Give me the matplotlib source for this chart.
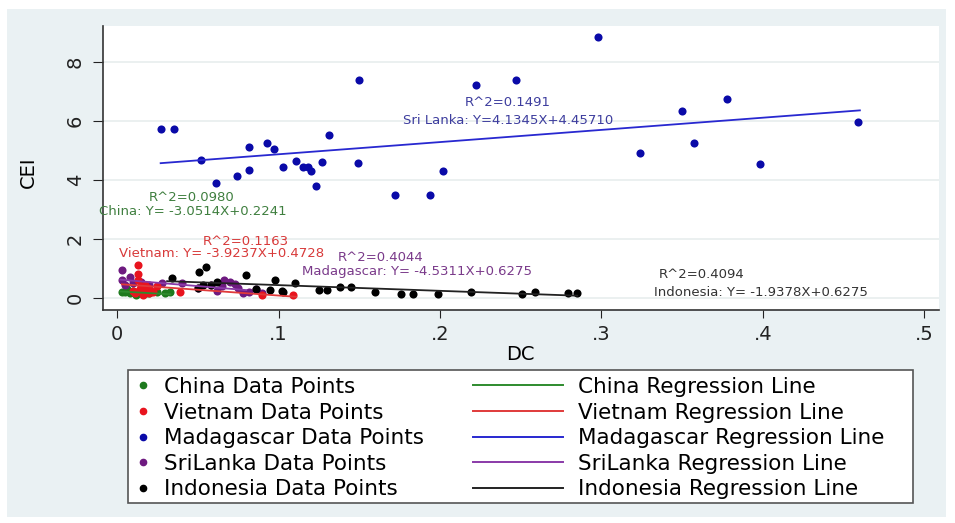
import numpy as np
import matplotlib
matplotlib.use("Agg")
import matplotlib.pyplot as plt
from matplotlib.lines import Line2D
from matplotlib.patches import Rectangle

plt.rcParams['font.family'] = ['DejaVu Sans']

# ---- data ----
china_x = [0.003, 0.005, 0.006, 0.008, 0.010, 0.012, 0.015, 0.018, 0.020, 0.025, 0.030, 0.033, 0.007]
china_y = [0.20, 0.20, 0.30, 0.15, 0.25, 0.10, 0.20, 0.15, 0.15, 0.20, 0.15, 0.20, 0.25]

vietnam_x = [0.013, 0.013, 0.013, 0.015, 0.010, 0.018, 0.020, 0.022, 0.016, 0.012, 0.025, 0.014,
             0.017, 0.019, 0.011, 0.039, 0.090, 0.109, 0.021]
vietnam_y = [1.10, 0.80, 0.60, 0.40, 0.25, 0.30, 0.15, 0.20, 0.10, 0.20, 0.40, 0.30,
             0.45, 0.35, 0.15, 0.20, 0.10, 0.10, 0.25]

madagascar_x = [0.027, 0.035, 0.052, 0.061, 0.074, 0.082, 0.082, 0.093, 0.097, 0.103, 0.111, 0.115,
                0.118, 0.120, 0.123, 0.127, 0.131, 0.149, 0.150, 0.172, 0.194, 0.202, 0.222,
                0.247, 0.298, 0.324, 0.350, 0.357, 0.378, 0.398, 0.459]
madagascar_y = [5.73, 5.73, 4.68, 3.90, 4.14, 4.34, 5.12, 5.25, 5.05, 4.44, 4.64, 4.44,
                4.44, 4.30, 3.80, 4.60, 5.53, 4.58, 7.39, 3.49, 3.49, 4.30, 7.22,
                7.39, 8.85, 4.92, 6.34, 5.25, 6.74, 4.55, 5.97]

srilanka_x = [0.003, 0.003, 0.005, 0.010, 0.015, 0.020, 0.028, 0.040, 0.050, 0.058, 0.062, 0.065,
              0.070, 0.075, 0.078, 0.082, 0.086, 0.090, 0.066, 0.073, 0.008]
srilanka_y = [0.95, 0.60, 0.45, 0.50, 0.55, 0.45, 0.50, 0.50, 0.35, 0.45, 0.25, 0.40,
              0.55, 0.35, 0.15, 0.20, 0.30, 0.15, 0.60, 0.48, 0.70]

indonesia_x = [0.034, 0.050, 0.051, 0.053, 0.055, 0.058, 0.062, 0.080, 0.086, 0.095, 0.098, 0.102,
               0.103, 0.110, 0.125, 0.130, 0.138, 0.145, 0.160, 0.176, 0.183, 0.199, 0.219,
               0.251, 0.259, 0.279, 0.285]
indonesia_y = [0.68, 0.33, 0.88, 0.44, 1.05, 0.44, 0.54, 0.78, 0.30, 0.27, 0.61, 0.24,
               0.20, 0.50, 0.27, 0.27, 0.37, 0.37, 0.20, 0.14, 0.14, 0.14, 0.20,
               0.14, 0.20, 0.17, 0.17]

# fitted lines (slope, intercept, x range)
names = ["China", "Vietnam", "Madagascar", "SriLanka", "Indonesia"]
slopes = [-3.0514, -3.9237, 4.1345, -4.5311, -1.9378]
intercepts = [0.2241, 0.4728, 4.4571, 0.6275, 0.6275]
x_start = [0.002, 0.003, 0.027, 0.002, 0.031]
x_end = [0.033, 0.111, 0.460, 0.080, 0.285]

r2_labels = ["R^2=0.0980", "R^2=0.1163", "R^2=0.1491", "R^2=0.4044", "R^2=0.4094"]
eq_labels = ["China: Y= -3.0514X+0.2241", "Vietnam: Y= -3.9237X+0.4728",
             "Sri Lanka: Y=4.1345X+4.45710", "Madagascar: Y= -4.5311X+0.6275",
             "Indonesia: Y= -1.9378X+0.6275"]

pt_colors = ["#1e7a1e", "#e8141e", "#0a0aa8", "#6e1a80", "#000000"]
ln_colors = ["#2e8b2e", "#e03a3a", "#2828d0", "#8a3aa8", "#222222"]
tx_colors = ["#3f7f3f", "#d83a3a", "#3d3d9e", "#7a3a8a", "#333333"]

fig = plt.figure(figsize=(9.55, 5.23), dpi=100)
W, H = 955, 523
# stata-like light background panel
fig.patches.append(Rectangle((7 / W, 1 - 517 / H), (946 - 7) / W, (517 - 9) / H,
                             transform=fig.transFigure, facecolor="#eaf1f3",
                             edgecolor="none", zorder=0))

ax = fig.add_axes([103 / W, 1 - 310 / H, 836 / W, 284 / H])
ax.set_zorder(3)
ax.set_facecolor("white")

xs = [china_x, vietnam_x, madagascar_x, srilanka_x, indonesia_x]
ys = [china_y, vietnam_y, madagascar_y, srilanka_y, indonesia_y]
zord = [3, 5, 3, 4, 4]
for i in range(5):
    ax.scatter(xs[i], ys[i], s=34, color=pt_colors[i], zorder=zord[i], linewidths=0)

for i in range(5):
    lx = np.array([x_start[i], x_end[i]])
    ax.plot(lx, slopes[i] * lx + intercepts[i], color=ln_colors[i], lw=1.3, zorder=6)

# annotation positions (data coords)
r2_pos = [(0.046, 3.42), (0.080, 1.90), (0.242, 6.61), (0.163, 1.36), (0.362, 0.81)]
eq_pos = [(0.047, 2.92), (0.065, 1.49), (0.242, 6.00), (0.186, 0.88), (0.399, 0.17)]
for i in range(5):
    ax.text(*r2_pos[i], r2_labels[i], color=tx_colors[i], fontsize=9.5, ha="center", va="center", zorder=7)
    ax.text(*eq_pos[i], eq_labels[i], color=tx_colors[i], fontsize=9.5, ha="center", va="center", zorder=7)

ax.set_xlim(-0.0087, 0.509)
ax.set_ylim(-0.41, 9.22)
ax.set_xticks([0, 0.1, 0.2, 0.3, 0.4, 0.5])
ax.set_xticklabels(["0", ".1", ".2", ".3", ".4", ".5"])
ax.set_yticks([0, 2, 4, 6, 8])
ax.set_yticklabels(["0", "2", "4", "6", "8"], rotation=90, va="center")
ax.tick_params(axis="both", direction="out", labelsize=14, colors="#222222")
ax.tick_params(axis="y", length=7, pad=6)
ax.tick_params(axis="x", length=6, pad=5)
ax.grid(axis="y", color="#e8eeee", lw=1.2, zorder=0)
ax.set_axisbelow(True)
for s in ["top", "right"]:
    ax.spines[s].set_visible(False)
for s in ["left", "bottom"]:
    ax.spines[s].set_color("#333333")
    ax.spines[s].set_linewidth(1.2)

fig.text(520 / W, 1 - 354 / H, "DC", fontsize=14, ha="center", va="center")
fig.text(28 / W, 1 - 172 / H, "CEI", fontsize=14, ha="center", va="center", rotation=90)

# legend box
fig.patches.append(Rectangle((128 / W, 1 - 503 / H), (913 - 128) / W, (503 - 370) / H,
                             transform=fig.transFigure, facecolor="white",
                             edgecolor="#555555", lw=1.2, zorder=1))

fs_leg = 15.5
px = fs_leg * 100 / 72
pt_handles = [Line2D([], [], marker="o", ls="none", color=pt_colors[i], markersize=4.5)
              for i in range(5)]
ln_handles = [Line2D([], [], color=ln_colors[i], lw=1.4) for i in range(5)]
leg1 = fig.legend(pt_handles, [n + " Data Points" for n in names], loc="upper left",
                  bbox_to_anchor=(134 / W, 1 - 377 / H), frameon=False, fontsize=fs_leg,
                  handlelength=18 / px, handletextpad=12 / px, labelspacing=0.26,
                  borderpad=0, borderaxespad=0)
leg2 = fig.legend(ln_handles, [n + " Regression Line" for n in names], loc="upper left",
                  bbox_to_anchor=(473 / W, 1 - 377 / H), frameon=False, fontsize=fs_leg,
                  handlelength=90 / px, handletextpad=15 / px, labelspacing=0.26,
                  borderpad=0, borderaxespad=0)
leg1.set_zorder(2)
leg2.set_zorder(2)

fig.savefig("out.png", dpi=100, facecolor="white")
